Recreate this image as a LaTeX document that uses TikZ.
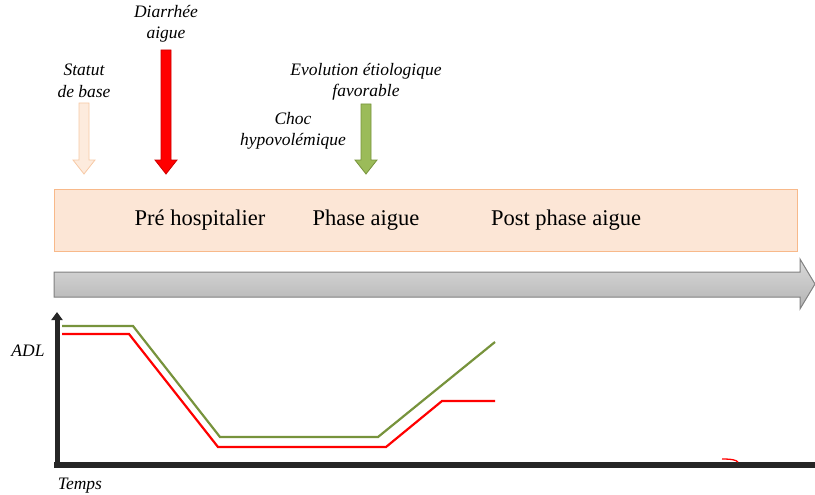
\documentclass[tikz,border=0pt]{standalone}
\usepackage{fontspec}
\setmainfont{Liberation Serif}
\usepackage{tikz}
\usetikzlibrary{arrows.meta,positioning,calc}
\usepackage{xcolor}
\definecolor{peachfill}{HTML}{FCE6D6}
\definecolor{peachborder}{HTML}{F8B98A}
\definecolor{basefill}{HTML}{FDEBDD}
\definecolor{baseborder}{HTML}{F7C9A5}
\definecolor{diarrred}{HTML}{FF0000}
\definecolor{evolgreen}{HTML}{9BBB59}
\definecolor{evolborder}{HTML}{77933C}
\definecolor{curvegreen}{HTML}{77933C}
\definecolor{axisdark}{HTML}{262626}

\begin{document}
\begin{tikzpicture}[
  x=1pt, y=-1pt,
  >=Triangle,
  eventlabel/.style={
    font=\fontsize{17.5}{21.5}\selectfont\itshape,
    align=center,
    inner sep=0pt
  },
  phaselabel/.style={
    font=\fontsize{22.5}{26}\selectfont,
    inner sep=0pt
  },
  axislabel/.style={
    font=\fontsize{17.5}{20}\selectfont\itshape,
    inner sep=0pt
  },
  curve/.style={
    line width=2.2pt,
    line join=miter
  }
]
  \useasboundingbox (0,0) rectangle (815,495);

  % --- Event labels ---
  \node[eventlabel] (statut) at (84,81) {Statut\\de base};
  \node[eventlabel] (diarr) at (166,24) {Diarrh\'ee\\aigue};
  \node[eventlabel] (choc) at (293,131) {Choc\\hypovol\'emique};
  \node[eventlabel] (evol) at (366,82) {Evolution \'etiologique\\favorable};

  % --- Event block arrows (x / top / fill / border) ---
  \foreach \ax/\atop/\afill/\aborder in {84/103/basefill/baseborder, 166/50/diarrred/diarrred!80!black, 366/104/evolgreen/evolborder}{
    \filldraw[fill=\afill, draw=\aborder, line width=0.8pt]
      (\ax-5,\atop) -- (\ax+5,\atop) -- (\ax+5,160) -- (\ax+11,160)
      -- (\ax,174) -- (\ax-11,160) -- (\ax-5,160) -- cycle;
  }

  % --- Phase band ---
  \node[draw=peachborder, fill=peachfill, line width=0.8pt, minimum width=743pt,
    minimum height=62pt, inner sep=0pt, anchor=north west] (band) at (54,189) {};
  \node[phaselabel] (prehosp) at (200,220) {Pr\'e hospitalier};
  \node[phaselabel] (aigue) at (366,220) {Phase aigue};
  \node[phaselabel] (post) at (566,220) {Post phase aigue};

  % --- Time arrow ---
  \shadedraw[top color=gray!30, bottom color=gray!60, middle color=gray!44, draw=black!50, line width=1pt]
    (54,272) -- (800,272) -- (800,259) -- (815,284) -- (800,309) -- (800,297) -- (54,297) -- cycle;

  % --- Axes ---
  \coordinate (origin) at (57,465);
  \coordinate (ytip) at (57,312);
  \coordinate (xend) at (815,465);
  \draw[axisdark, line width=5pt, -{Triangle[length=8pt,width=11pt]}] (origin) -- (ytip);
  \draw[axisdark, line width=6pt] (54,465) -- (xend);
  \node[axislabel] (adl) at (28,351) {ADL};
  \node[axislabel] (temps) at (80,486) {Temps};

  % --- ADL curves ---
  \draw[curve, curvegreen] (62,326) -- (133,326) -- (220,437) -- (378,437) -- (495,342);
  \draw[curve, diarrred] (62,334) -- (129,334) -- (218,447) -- (386,447) -- (442,401) -- (495,401);
  \draw[diarrred, line width=1.3pt] (722,459) .. controls (732,459) and (736,460) .. (738,462);

\end{tikzpicture}
\end{document}
